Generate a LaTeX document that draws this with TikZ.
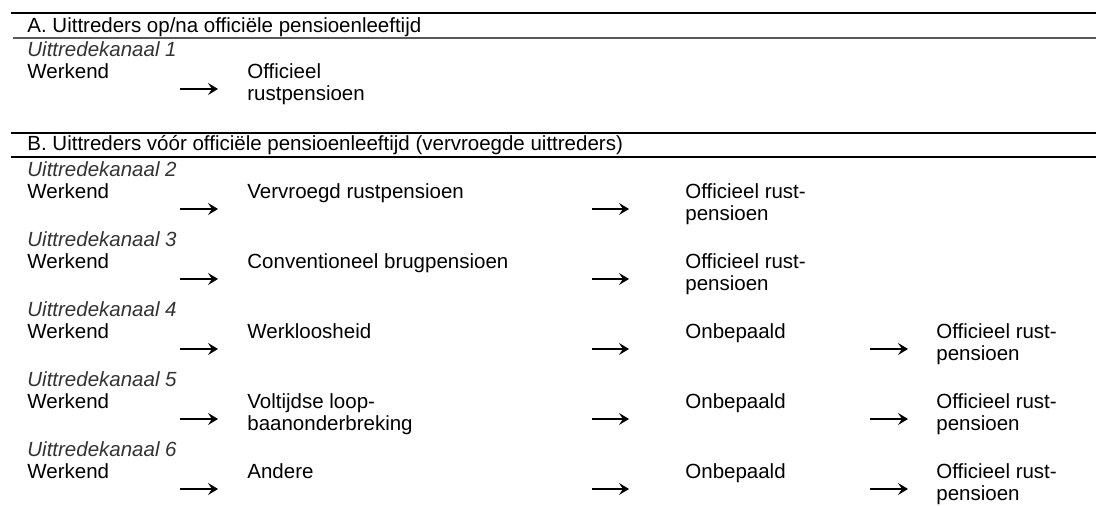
\documentclass[tikz,border=0pt]{standalone}
\usepackage{fontspec}
\setmainfont{Liberation Sans}
\usetikzlibrary{arrows.meta}
\tikzstyle{pijl} = [line width=0.9pt,-{Stealth[length=5pt,width=6pt,inset=2pt]}]
\tikzstyle{tekst} = [anchor=base west,inner sep=0pt,align=left,font=\fontsize{10.25}{11}\selectfont]
\tikzstyle{kanaal} = [tekst,font=\fontsize{10.25}{11}\selectfont\itshape,color=black!80]
\begin{document}
\begin{tikzpicture}[x=0.5pt,y=-0.5pt]
          \useasboundingbox (0,0) rectangle (1096,506);
          % rules
          \draw [line width=1pt] (11,13) -- (1096,13);
          \draw [line width=0.9pt,color=black!65] (13,38) -- (1096,38);
          \draw [line width=1pt] (11,133) -- (1096,133);
          \draw [line width=1pt] (11,157) -- (1096,157);
          \node [tekst] (titA) at (27,33) {A. Uittreders op/na officiële pensioenleeftijd};
          \node [tekst] (titB) at (27,151) {B. Uittreders vóór officiële pensioenleeftijd (vervroegde uittreders)};

          % arrow columns and rows
          \coordinate (p1) at (180,0); \coordinate (q1) at (218,0);
          \coordinate (p2) at (592,0); \coordinate (q2) at (629,0);
          \coordinate (p3) at (870,0); \coordinate (q3) at (908,0);
          \coordinate (y1) at (0,89);  \coordinate (y2) at (0,209);
          \coordinate (y3) at (0,279); \coordinate (y4) at (0,349);
          \coordinate (y5) at (0,419); \coordinate (y6) at (0,489);

          % kanaal 1 (two-line nodes sit on their last baseline)
          \node [kanaal] (kan1) at (27,57) {Uittredekanaal 1};
          \node [tekst] (werk1) at (27,79) {Werkend};
          \node [tekst] (orp1) at (247,101) {Officieel\\rustpensioen};
          \draw [pijl] (p1 |- y1) -- (q1 |- y1);

          % kanaal 2
          \node [kanaal] (kan2) at (27,177) {Uittredekanaal 2};
          \node [tekst] (werk2) at (27,199) {Werkend};
          \node [tekst] (vrp2) at (247,199) {Vervroegd rustpensioen};
          \node [tekst] (orp2) at (685,221) {Officieel rust-\\pensioen};
          \draw [pijl] (p1 |- y2) -- (q1 |- y2);
          \draw [pijl] (p2 |- y2) -- (q2 |- y2);

          % kanaal 3
          \node [kanaal] (kan3) at (27,247) {Uittredekanaal 3};
          \node [tekst] (werk3) at (27,269) {Werkend};
          \node [tekst] (cbp3) at (247,269) {Conventioneel brugpensioen};
          \node [tekst] (orp3) at (685,291) {Officieel rust-\\pensioen};
          \draw [pijl] (p1 |- y3) -- (q1 |- y3);
          \draw [pijl] (p2 |- y3) -- (q2 |- y3);

          % kanaal 4
          \node [kanaal] (kan4) at (27,317) {Uittredekanaal 4};
          \node [tekst] (werk4) at (27,339) {Werkend};
          \node [tekst] (wkl4) at (247,339) {Werkloosheid};
          \node [tekst] (onb4) at (685,339) {Onbepaald};
          \node [tekst] (orp4) at (936,361) {Officieel rust-\\pensioen};
          \draw [pijl] (p1 |- y4) -- (q1 |- y4);
          \draw [pijl] (p2 |- y4) -- (q2 |- y4);
          \draw [pijl] (p3 |- y4) -- (q3 |- y4);

          % kanaal 5
          \node [kanaal] (kan5) at (27,387) {Uittredekanaal 5};
          \node [tekst] (werk5) at (27,409) {Werkend};
          \node [tekst] (vlb5) at (247,431) {Voltijdse loop-\\baanonderbreking};
          \node [tekst] (onb5) at (685,409) {Onbepaald};
          \node [tekst] (orp5) at (936,431) {Officieel rust-\\pensioen};
          \draw [pijl] (p1 |- y5) -- (q1 |- y5);
          \draw [pijl] (p2 |- y5) -- (q2 |- y5);
          \draw [pijl] (p3 |- y5) -- (q3 |- y5);

          % kanaal 6
          \node [kanaal] (kan6) at (27,457) {Uittredekanaal 6};
          \node [tekst] (werk6) at (27,479) {Werkend};
          \node [tekst] (and6) at (247,479) {Andere};
          \node [tekst] (onb6) at (685,479) {Onbepaald};
          \node [tekst] (orp6) at (936,501) {Officieel rust-\\pensioen};
          \draw [pijl] (p1 |- y6) -- (q1 |- y6);
          \draw [pijl] (p2 |- y6) -- (q2 |- y6);
          \draw [pijl] (p3 |- y6) -- (q3 |- y6);
\end{tikzpicture}
\end{document}
